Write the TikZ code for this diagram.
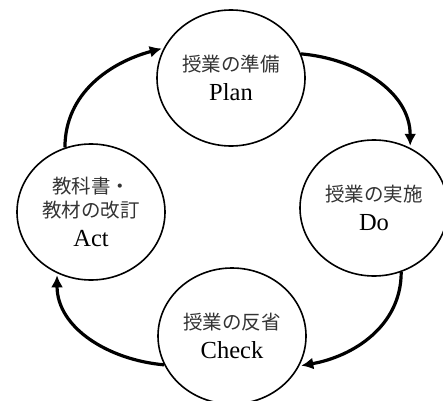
\documentclass[tikz,border=0pt]{standalone}
\usepackage{fontspec}
\newfontfamily\jpfont{Noto Sans CJK JP}
\newfontfamily\enfont{Liberation Serif}
\usetikzlibrary{arrows.meta}
\usetikzlibrary{shapes.geometric}
\tikzset{
	>={Latex[length=12pt,width=12pt]},
	phase/.style={
		ellipse, 
		draw=black, line width=1.6pt,
		minimum width=148pt, 
		minimum height=136pt, 
		inner sep=0pt,
		align=center,
		text=black!80,
		font=\fontsize{19.5}{28.5}\selectfont},
	turn/.style={draw, line width=3.2pt, ->, shorten >=2pt},
}
\newcommand{\jp}[1]{{\jpfont #1}}
\newcommand{\eng}[1]{{\enfont\fontsize{24.5}{28.5}\selectfont\color{black}#1}}

\begin{document}
\begin{tikzpicture}[x=1pt,y=1pt]
	\useasboundingbox (0,0) rectangle (443,400);
	\node[phase] (plan)  at (231,322) {\jp{授業の準備}\\\eng{Plan}};
	\node[phase] (do)    at (374,192) {\jp{授業の実施}\\\eng{Do}};
	\node[phase] (check) at (232,64)  {\jp{授業の反省}\\\eng{Check}};
	\node[phase] (act)   at (91,188)  {\jp{教科書・}\\[-4.5pt]\jp{教材の改訂}\\\eng{Act}};
	
	\draw[turn] (act.112) to[out=90,in=195] (plan.156);
	\draw[turn] (plan.19) to[out=-5,in=90] (do.59);
	\draw[turn] (do.-67) to[out=-90,in=10] (check.-24);
	\draw[turn] (check.203) to[out=175,in=-90] (act.241);
\end{tikzpicture}
\end{document}
